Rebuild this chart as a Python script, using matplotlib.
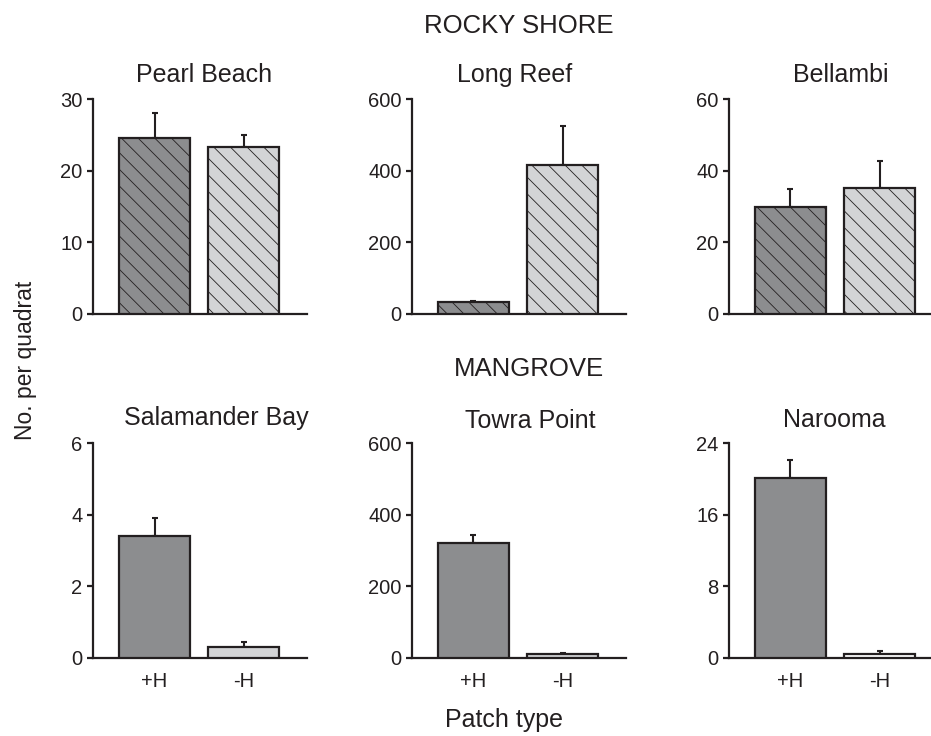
import matplotlib
matplotlib.use("Agg")
import matplotlib.pyplot as plt

plt.rcParams["font.family"] = ["Liberation Sans", "DejaVu Sans"]
plt.rcParams["hatch.linewidth"] = 0.6

# Data
sites = ["Pearl Beach", "Long Reef", "Bellambi",
         "Salamander Bay", "Towra Point", "Narooma"]
means = [[24.6, 23.4], [33, 417], [29.8, 35.3],
         [3.41, 0.32], [321, 10], [20.1, 0.45]]
errors = [[3.5, 1.6], [4, 110], [5.1, 7.5],
          [0.51, 0.12], [23, 3], [2.0, 0.3]]
yticks = [[0, 10, 20, 30], [0, 200, 400, 600], [0, 20, 40, 60],
          [0, 2, 4, 6], [0, 200, 400, 600], [0, 8, 16, 24]]
patch_labels = ["+H", "-H"]

# styling
dark, light = "#8c8d8f", "#d3d4d6"
bar_colors = [[dark, light]] * 5 + [[dark, "#ffffff"]]
edge = "#231f20"
title_x = [0.519, 0.481, 0.523, 0.575, 0.551, 0.49]
title_gap = [17, 17, 17, 18, 15, 16]  # px between axes top and title baseline

fig = plt.figure(figsize=(9.31, 7.36), dpi=100)
lefts = [0.0999, 0.4425, 0.783]
bottoms = [0.5734, 0.106]
w, h = 0.2299, 0.2915
h_px = h * 736

xpos = [0, 1.25]
for i, site in enumerate(sites):
    row, col = divmod(i, 3)
    ax = fig.add_axes([lefts[col], bottoms[row], w, h])
    ax.bar(xpos, means[i], width=1.0, color=bar_colors[i], edgecolor=edge,
           linewidth=1.6, hatch="\\\\" if row == 0 else None, zorder=3)
    ax.errorbar(xpos, means[i], yerr=[[0, 0], errors[i]], fmt="none",
                ecolor=edge, elinewidth=1.5, capsize=2.5, capthick=1.5, zorder=2)
    ax.set_xlim(-0.862, 2.138)
    ax.set_ylim(0, yticks[i][-1])
    ax.set_yticks(yticks[i])
    ax.spines["top"].set_visible(False)
    ax.spines["right"].set_visible(False)
    for s in ["left", "bottom"]:
        ax.spines[s].set_linewidth(1.6)
        ax.spines[s].set_color(edge)
    ax.tick_params(axis="y", direction="out", length=4, width=1.6, color=edge,
                   labelsize=14.5, pad=3.5, labelcolor=edge)
    if row == 1:
        ax.set_xticks(xpos)
        ax.set_xticklabels(patch_labels)
        ax.tick_params(axis="x", length=0, pad=10, labelsize=14.5, labelcolor=edge)
    else:
        ax.set_xticks([])
    ax.text(title_x[i], 1 + title_gap[i] / h_px, site, transform=ax.transAxes,
            ha="center", va="baseline", fontsize=18, color=edge)

fig.text(0.557, 0.964, "ROCKY SHORE", ha="center", va="center", fontsize=18.5, color=edge)
fig.text(0.568, 0.499, "MANGROVE", ha="center", va="center", fontsize=18.5, color=edge)
fig.text(0.541, 0.022, "Patch type", ha="center", va="center", fontsize=18, color=edge)
fig.text(0.027, 0.511, "No. per quadrat", ha="center", va="center", rotation=90,
         fontsize=16.5, color=edge)

plt.savefig("out.png", dpi=100)
